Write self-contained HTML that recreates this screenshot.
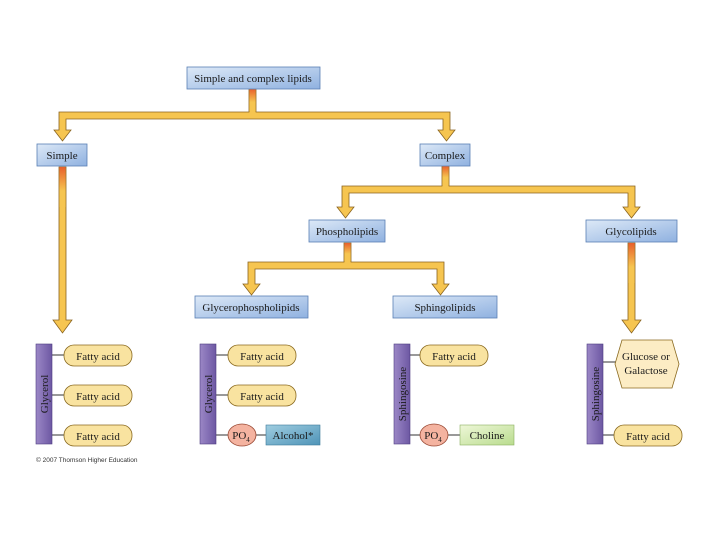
<!DOCTYPE html>
<html><head><meta charset="utf-8"><style>
body{margin:0;background:#fff;}
svg{display:block;}
text{font-family:"Liberation Serif",serif;font-size:11px;fill:#1a1a1a;}
</style></head><body>
<svg width="720" height="540" viewBox="0 0 720 540" xmlns="http://www.w3.org/2000/svg">
<defs>
<linearGradient id="bx" x1="0" y1="0" x2="1" y2="1">
<stop offset="0" stop-color="#dde9f7"/><stop offset="1" stop-color="#8fb1e0"/></linearGradient>
<linearGradient id="st" x1="0" y1="0" x2="0" y2="1">
<stop offset="0" stop-color="#e8602c"/><stop offset="0.6" stop-color="#f6c550"/><stop offset="1" stop-color="#f6c550"/></linearGradient>
<linearGradient id="pu" x1="0" y1="0" x2="1" y2="0">
<stop offset="0" stop-color="#9b87c6"/><stop offset="1" stop-color="#6d58a3"/></linearGradient>
<linearGradient id="al" x1="0" y1="0" x2="1" y2="1">
<stop offset="0" stop-color="#9fcde0"/><stop offset="1" stop-color="#4f94b8"/></linearGradient>
<linearGradient id="ch" x1="0" y1="0" x2="1" y2="1">
<stop offset="0" stop-color="#eef7d8"/><stop offset="1" stop-color="#b9dc8e"/></linearGradient>
</defs>
<g stroke="#8a6420" stroke-width="0.8" fill="#f6c550">
<!-- top fork -->
<path d="M249,89 V112 H59 V130 H54 L62.5,141 L71,130 H66 V119 H443 V130 H438 L446.5,141 L455,130 H450 V112 H256 V89 Z"/>
<!-- complex fork -->
<path d="M442,166 V186 H342 V207 H337 L345.5,218 L354,207 H349 V193 H628 V207 H623 L631.5,218 L640,207 H635 V186 H449 V166 Z"/>
<!-- phospholipid fork -->
<path d="M344,243 V262 H248 V284 H243 L251.5,295 L260,284 H255 V269 H437 V284 H432 L440.5,295 L449,284 H444 V262 H351 V243 Z"/>
<!-- simple stem -->
<path d="M59,167 V320 H53 L62.5,333 L72,320 H66 V167 Z"/>
<!-- glycolipid stem -->
<path d="M628,243 V320 H622 L631.5,333 L641,320 H635 V243 Z"/>
</g>
<g fill="url(#st)" stroke="none">
<rect x="249.4" y="89" width="6.2" height="22"/>
<rect x="59.4" y="167" width="6.2" height="40"/>
<rect x="442.4" y="166" width="6.2" height="19"/>
<rect x="344.4" y="243" width="6.2" height="18"/>
<rect x="628.4" y="243" width="6.2" height="40"/>
</g>
<g fill="url(#bx)" stroke="#5a7fb5" stroke-width="0.8">
<rect x="187" y="67" width="133" height="22"/>
<rect x="37" y="144" width="50" height="22"/>
<rect x="420" y="144" width="50" height="22"/>
<rect x="309" y="220" width="76" height="22"/>
<rect x="586" y="220" width="91" height="22"/>
<rect x="195" y="296" width="113" height="22"/>
<rect x="393" y="296" width="104" height="22"/>
</g>
<g text-anchor="middle">
<text x="253" y="82">Simple and complex lipids</text>
<text x="62" y="159">Simple</text>
<text x="445" y="159">Complex</text>
<text x="347" y="235">Phospholipids</text>
<text x="631" y="235">Glycolipids</text>
<text x="251" y="311">Glycerophospholipids</text>
<text x="445" y="311">Sphingolipids</text>
</g>
<!-- connector lines -->
<g stroke="#555" stroke-width="1.2">
<line x1="52" y1="355" x2="65" y2="355"/><line x1="52" y1="395" x2="65" y2="395"/><line x1="52" y1="435" x2="65" y2="435"/>
<line x1="216" y1="355" x2="229" y2="355"/><line x1="216" y1="395" x2="229" y2="395"/><line x1="216" y1="435" x2="229" y2="435"/><line x1="256" y1="435" x2="267" y2="435"/>
<line x1="410" y1="355" x2="421" y2="355"/><line x1="410" y1="435" x2="421" y2="435"/><line x1="448" y1="435" x2="461" y2="435"/>
<line x1="603" y1="362" x2="616" y2="362"/><line x1="603" y1="435" x2="615" y2="435"/>
</g>
<g fill="url(#pu)" stroke="#4d3c80" stroke-width="0.6">
<rect x="36" y="344" width="16" height="100"/>
<rect x="200" y="344" width="16" height="100"/>
<rect x="394" y="344" width="16" height="100"/>
<rect x="587" y="344" width="16" height="100"/>
</g>
<g text-anchor="middle" style="font-size:11px">
<text transform="translate(48,394) rotate(-90)">Glycerol</text>
<text transform="translate(212,394) rotate(-90)">Glycerol</text>
<text transform="translate(406,394) rotate(-90)">Sphingosine</text>
<text transform="translate(599,394) rotate(-90)">Sphingosine</text>
</g>
<g fill="#f9e3a0" stroke="#8a6a20" stroke-width="0.8">
<rect x="64" y="345" width="68" height="21" rx="10"/>
<rect x="64" y="385" width="68" height="21" rx="10"/>
<rect x="64" y="425" width="68" height="21" rx="10"/>
<rect x="228" y="345" width="68" height="21" rx="10"/>
<rect x="228" y="385" width="68" height="21" rx="10"/>
<rect x="420" y="345" width="68" height="21" rx="10"/>
<rect x="614" y="425" width="68" height="21" rx="10"/>
<polygon points="622,340 672,340 679,364 672,388 622,388 615,364" fill="#fcecc4"/>
</g>
<g fill="#f4b3a0" stroke="#9a4a35" stroke-width="0.8">
<ellipse cx="242" cy="435" rx="14" ry="11"/>
<ellipse cx="434" cy="435" rx="14" ry="11"/>
</g>
<rect x="266" y="425" width="54" height="20" fill="url(#al)" stroke="#3d7a9a" stroke-width="0.6"/>
<rect x="460" y="425" width="54" height="20" fill="url(#ch)" stroke="#8ab060" stroke-width="0.6"/>
<g text-anchor="middle">
<text x="98" y="360">Fatty acid</text><text x="98" y="400">Fatty acid</text><text x="98" y="440">Fatty acid</text>
<text x="262" y="360">Fatty acid</text><text x="262" y="400">Fatty acid</text>
<text x="454" y="360">Fatty acid</text><text x="648" y="440">Fatty acid</text>
<text x="646" y="360">Glucose or</text><text x="646" y="374">Galactose</text>
<text x="241" y="439">PO<tspan font-size="7" dy="3">4</tspan></text>
<text x="433" y="439">PO<tspan font-size="7" dy="3">4</tspan></text>
<text x="293" y="439">Alcohol*</text>
<text x="487" y="439">Choline</text>
</g>
<text x="36" y="462" style="font-family:'Liberation Sans',sans-serif;font-size:6.5px;fill:#333">© 2007 Thomson Higher Education</text>
</svg>
</body></html>
